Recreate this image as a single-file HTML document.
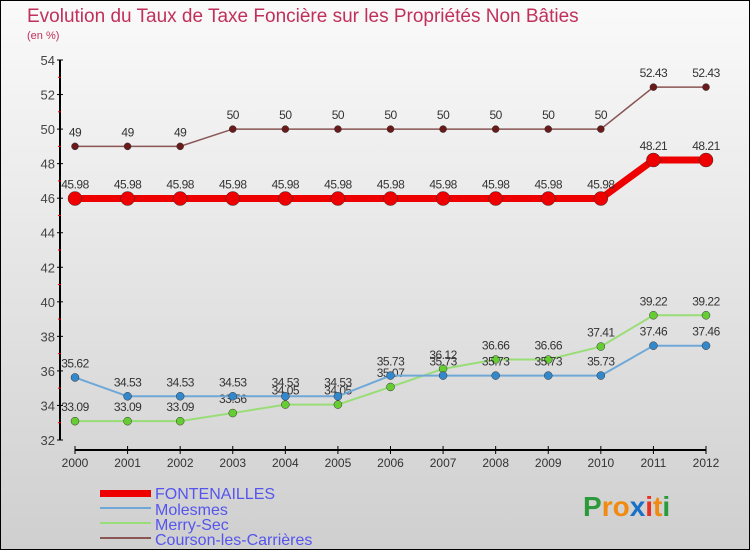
<!DOCTYPE html>
<html><head><meta charset="utf-8"><style>
body{margin:0;width:750px;height:550px;overflow:hidden}
svg text{font-family:"Liberation Sans",sans-serif}
</style></head><body>
<svg width="750" height="550" xmlns="http://www.w3.org/2000/svg" id="chart">
<defs><linearGradient id="bg" x1="0" y1="0" x2="0" y2="1"><stop offset="0" stop-color="#fafafa"/><stop offset="1" stop-color="#cfcfcf"/></linearGradient></defs>
<rect x="0.5" y="0.5" width="749" height="549" fill="url(#bg)" stroke="#000"/>
<text x="27" y="22" font-size="19" fill="#c0305a">Evolution du Taux de Taxe Foncière sur les Propriétés Non Bâties</text>
<text x="27" y="39" font-size="11" fill="#c0305a">(en %)</text>
<g id="axes"></g><g id="series"></g>
<g>
<rect x="100" y="490" width="51" height="7" fill="#e00"/>
<text x="155" y="499" font-size="16" fill="#5555ee">FONTENAILLES</text>
<rect x="100" y="507" width="51" height="2" fill="#6fa8d8"/>
<text x="155" y="515" font-size="16" fill="#5555ee">Molesmes</text>
<rect x="100" y="522" width="51" height="2" fill="#99dd77"/>
<text x="155" y="530" font-size="16" fill="#5555ee">Merry-Sec</text>
<rect x="100" y="537" width="51" height="2" fill="#8a5555"/>
<text x="155" y="545" font-size="16" fill="#5555ee">Courson-les-Carrières</text>
</g>
<text x="583" y="516" font-size="28" font-weight="bold"><tspan fill="#2a9a3a">P</tspan><tspan fill="#f08a10">ro</tspan><tspan fill="#1a70c8">x</tspan><tspan fill="#e83020">i</tspan><tspan fill="#f08a10">t</tspan><tspan fill="#2a9a3a">i</tspan></text>
</svg>
<script>
const years=[2000,2001,2002,2003,2004,2005,2006,2007,2008,2009,2010,2011,2012];
const fontenailles=[45.98,45.98,45.98,45.98,45.98,45.98,45.98,45.98,45.98,45.98,45.98,48.21,48.21];
const molesmes=[35.62,34.53,34.53,34.53,34.53,34.53,35.73,35.73,35.73,35.73,35.73,37.46,37.46];
const merrySec=[33.09,33.09,33.09,33.56,34.05,34.05,35.07,36.12,36.66,36.66,37.41,39.22,39.22];
const courson=[49,49,49,50,50,50,50,50,50,50,50,52.43,52.43];
const yTicks=[32,34,36,38,40,42,44,46,48,50,52,54];
const NS="http://www.w3.org/2000/svg";
const X=i=>75+i*(706-75)/(years.length-1);
const Y=v=>440-(v-32)*(380/22);
function mk(t,a,p){const e=document.createElementNS(NS,t);for(const k in a)e.setAttribute(k,a[k]);p.appendChild(e);return e;}
const ax=document.getElementById('axes');
const yl=mk('line',{x1:60,y1:Y(54),x2:60,y2:Y(32),stroke:'#000','stroke-width':2},ax);


yTicks.forEach((v,k)=>{
 mk('line',{x1:57,y1:Y(v),x2:63,y2:Y(v),stroke:'#000'},ax);
 if(k<yTicks.length-1) mk('line',{x1:58,y1:Y(v+1),x2:61,y2:Y(v+1),stroke:'#e00'},ax);
 const t=mk('text',{x:55,y:Y(v)+5,'font-size':13,fill:'#444','text-anchor':'end'},ax);t.textContent=v;
 
 
});
const xl=mk('line',{x1:X(0),y1:450,x2:X(12),y2:450,stroke:'#000','stroke-width':2},ax);


years.forEach((y,i)=>{
 mk('line',{x1:X(i),y1:446,x2:X(i),y2:454,stroke:'#000'},ax);
 const t=mk('text',{x:X(i),y:467,'font-size':12,fill:'#333','text-anchor':'middle'},ax);t.textContent=y;
 
 
});
const sg=document.getElementById('series');
function series(vals,name,color,dot,w,r){
 const g=mk('g',{},sg);
 
 
 mk('polyline',{points:vals.map((v,i)=>X(i)+','+Y(v)).join(' '),fill:'none',stroke:color,'stroke-width':w},g);
 vals.forEach((v,i)=>{
  const c=mk('circle',{cx:X(i),cy:Y(v),r:r,fill:dot,stroke:'#333','stroke-width':0.5},g);
  
  
  const t=mk('text',{x:X(i),y:Y(v)-10,'font-size':12,fill:'#333','text-anchor':'middle','letter-spacing':'-0.5'},g);
  t.textContent=v;
  
  
 });
}
series(merrySec,'merry-sec','#99dd77','#66cc33',2,4);
series(molesmes,'molesmes','#6fa8d8','#3388cc',2,4);
series(courson,'courson','#8a5555','#6a1a1a',1.5,3.5);
series(fontenailles,'fontenailles','#ee0000','#ee0000',7,7);
</script>
</body></html>
